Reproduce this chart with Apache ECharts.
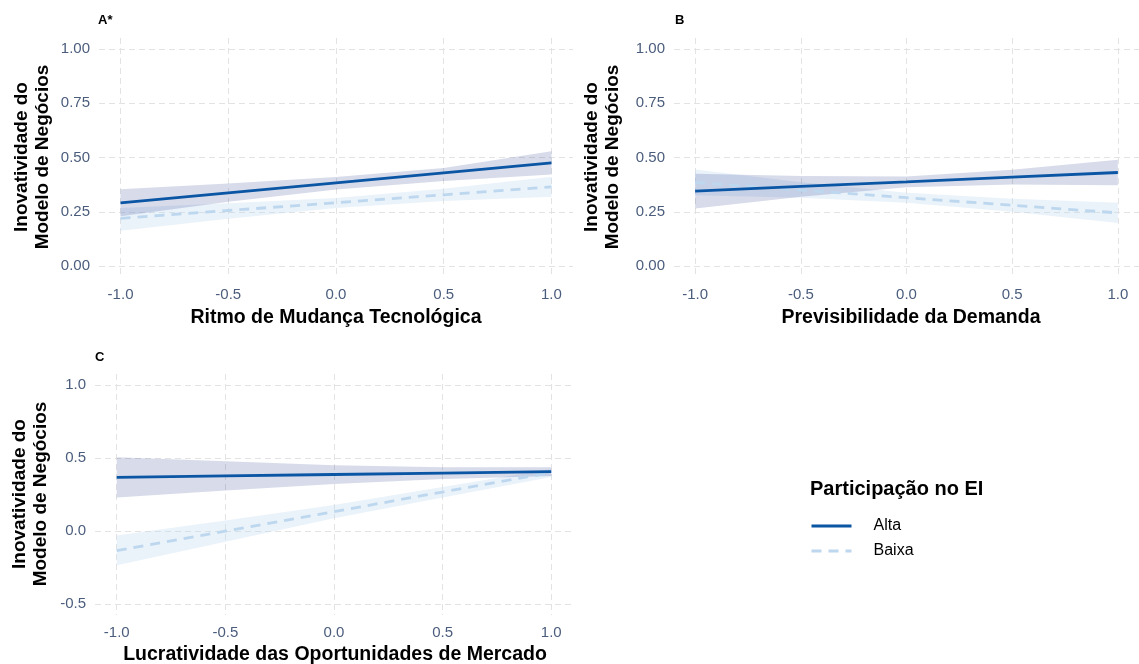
<!DOCTYPE html>
<html><head><meta charset="utf-8">
<script src="https://cdn.jsdelivr.net/npm/echarts@6/dist/echarts.min.js"></script>
<style>html,body{margin:0;padding:0;background:#fff}#c{width:1139px;height:664px}</style>
</head><body><div id="c"></div>
<script>
// ---------- data ----------
const xs = [-1, -0.5, 0, 0.5, 1];
const xTicks = [-1, -0.5, 0, 0.5, 1];
const yTicksAB = [0, 0.25, 0.5, 0.75, 1];
const yTicksC = [-0.5, 0, 0.5, 1];
const groups = ['Alta', 'Baixa'];
const panelTags = ['A*', 'B', 'C'];
const xTitles = ['Ritmo de Mudança Tecnológica', 'Previsibilidade da Demanda', 'Lucratividade das Oportunidades de Mercado'];
const yTitle = 'Inovatividade do\nModelo de Negócios';
const legendTitle = 'Participação no EI';

// Panel A
const altaA    = [0.291, 0.337, 0.383, 0.429, 0.475];
const altaA_lo = [0.230, 0.296, 0.353, 0.392, 0.422];
const altaA_hi = [0.354, 0.380, 0.410, 0.452, 0.529];
const baixaA    = [0.220, 0.256, 0.292, 0.328, 0.365];
const baixaA_lo = [0.163, 0.218, 0.268, 0.300, 0.319];
const baixaA_hi = [0.268, 0.290, 0.314, 0.356, 0.411];
// Panel B
const altaB    = [0.345, 0.367, 0.388, 0.410, 0.431];
const altaB_lo = [0.265, 0.319, 0.363, 0.376, 0.372];
const altaB_hi = [0.425, 0.415, 0.413, 0.444, 0.490];
const baixaB    = [0.385, 0.350, 0.315, 0.280, 0.245];
const baixaB_lo = [0.326, 0.315, 0.292, 0.250, 0.198];
const baixaB_hi = [0.445, 0.386, 0.338, 0.310, 0.292];
// Panel C
const altaC    = [0.367, 0.377, 0.387, 0.396, 0.406];
const altaC_lo = [0.229, 0.277, 0.322, 0.356, 0.376];
const altaC_hi = [0.505, 0.477, 0.450, 0.436, 0.436];
const baixaC    = [-0.135, -0.001, 0.133, 0.267, 0.400];
const baixaC_lo = [-0.235, -0.074, 0.088, 0.230, 0.370];
const baixaC_hi = [-0.030, 0.072, 0.178, 0.302, 0.425];

// ---------- styling / layout ----------
const FONT = '"Liberation Sans", Arial, sans-serif';
const TICK_COLOR = '#4B5D7C';
const ALTA_COLOR = '#0A55A4';
const BAIXA_COLOR = '#BDD7EE';
const ALTA_FILL = 'rgba(31,58,138,0.18)';
const BAIXA_FILL = 'rgba(189,215,238,0.32)';

const panels = [
  { grid: {left: 99, top: 38, width: 474, height: 239}, ymin: -0.05, ymax: 1.05, yt: yTicksAB, dec: 2,
    alta: altaA, altaLo: altaA_lo, altaHi: altaA_hi, baixa: baixaA, baixaLo: baixaA_lo, baixaHi: baixaA_hi,
    tag: [98, 20], xt: [336, 318], yt2: [32, 157] },
  { grid: {left: 674, top: 38, width: 475, height: 239}, ymin: -0.05, ymax: 1.05, yt: yTicksAB, dec: 2,
    alta: altaB, altaLo: altaB_lo, altaHi: altaB_hi, baixa: baixaB, baixaLo: baixaB_lo, baixaHi: baixaB_hi,
    tag: [675, 20], xt: [911, 318], yt2: [602, 157] },
  { grid: {left: 95, top: 374, width: 478, height: 241}, ymin: -0.575, ymax: 1.075, yt: yTicksC, dec: 1,
    alta: altaC, altaLo: altaC_lo, altaHi: altaC_hi, baixa: baixaC, baixaLo: baixaC_lo, baixaHi: baixaC_hi,
    tag: [95, 357], xt: [335, 655], yt2: [30, 494] }
];

const gridArr = [], xAxes = [], yAxes = [], series = [], graphics = [];
const splitLine = { show: true, lineStyle: { color: '#E3E3E3', width: 1, type: [6, 4] } };

// ribbon polygon drawn through the axis scales (api.coord)
function ribbonSeries(i, lo, hi, fill) {
  const rows = xs.map((x, k) => [x, lo[k], hi[k]]);
  return {
    type: 'custom', xAxisIndex: i, yAxisIndex: i, silent: true, z: 1, clip: true,
    data: rows,
    encode: { x: 0, y: [1, 2] },
    renderItem: function (params, api) {
      if (params.dataIndex !== 0) return null;
      const upper = rows.map(r => api.coord([r[0], r[2]]));
      const lower = rows.map(r => api.coord([r[0], r[1]])).reverse();
      return { type: 'polygon', shape: { points: upper.concat(lower) }, style: { fill: fill } };
    }
  };
}

panels.forEach((p, i) => {
  gridArr.push(Object.assign({ containLabel: false }, p.grid));
  xAxes.push({
    type: 'value', gridIndex: i, min: -1.1, max: 1.1,
    axisLine: { show: false }, axisTick: { show: false, customValues: xTicks },
    axisLabel: { customValues: xTicks, color: TICK_COLOR, fontSize: 15, fontFamily: FONT, margin: 10,
      formatter: v => v.toFixed(1) },
    splitLine: splitLine
  });
  yAxes.push({
    type: 'value', gridIndex: i, min: p.ymin, max: p.ymax,
    axisLine: { show: false }, axisTick: { show: false, customValues: p.yt },
    axisLabel: { customValues: p.yt, color: TICK_COLOR, fontSize: 15, fontFamily: FONT, margin: 9,
      formatter: v => v.toFixed(p.dec) },
    splitLine: splitLine
  });
  series.push(ribbonSeries(i, p.baixaLo, p.baixaHi, BAIXA_FILL));
  series.push(ribbonSeries(i, p.altaLo, p.altaHi, ALTA_FILL));
  series.push({
    name: groups[1], type: 'line', xAxisIndex: i, yAxisIndex: i, z: 3, symbol: 'none',
    lineStyle: { color: BAIXA_COLOR, width: 2.8, type: [10, 7] }, itemStyle: { color: BAIXA_COLOR },
    data: xs.map((x, k) => [x, p.baixa[k]])
  });
  series.push({
    name: groups[0], type: 'line', xAxisIndex: i, yAxisIndex: i, z: 4, symbol: 'none',
    lineStyle: { color: ALTA_COLOR, width: 2.8 }, itemStyle: { color: ALTA_COLOR },
    data: xs.map((x, k) => [x, p.alta[k]])
  });
  graphics.push({ type: 'text', x: p.tag[0], y: p.tag[1],
    style: { text: panelTags[i], font: 'bold 13px ' + FONT, fill: '#000', textVerticalAlign: 'middle' } });
  graphics.push({ type: 'text', x: p.xt[0], y: p.xt[1],
    style: { text: xTitles[i], font: 'bold 19.5px ' + FONT, fill: '#000', textAlign: 'center', textVerticalAlign: 'middle' } });
  graphics.push({ type: 'text', x: p.yt2[0], y: p.yt2[1], rotation: Math.PI / 2,
    style: { text: yTitle, font: 'bold 19px ' + FONT, fill: '#000', textAlign: 'center', textVerticalAlign: 'middle', lineHeight: 21 } });
});

graphics.push({ type: 'text', x: 810, y: 489,
  style: { text: legendTitle, font: 'bold 20px ' + FONT, fill: '#000', textVerticalAlign: 'middle' } });

const chart = echarts.init(document.getElementById('c'), null, { renderer: 'canvas' });
chart.setOption({
  animation: false,
  backgroundColor: '#fff',
  grid: gridArr, xAxis: xAxes, yAxis: yAxes, series: series,
  legend: {
    data: groups, orient: 'vertical', left: 805, top: 513, itemWidth: 40, itemHeight: 14, itemGap: 9,
    selectedMode: false, itemStyle: { opacity: 0, borderWidth: 0 },
    lineStyle: { width: 3 },
    textStyle: { fontSize: 16, fontFamily: FONT, color: '#000', padding: [0, 0, 0, 17] }
  },
  graphic: graphics
});
</script></body></html>
